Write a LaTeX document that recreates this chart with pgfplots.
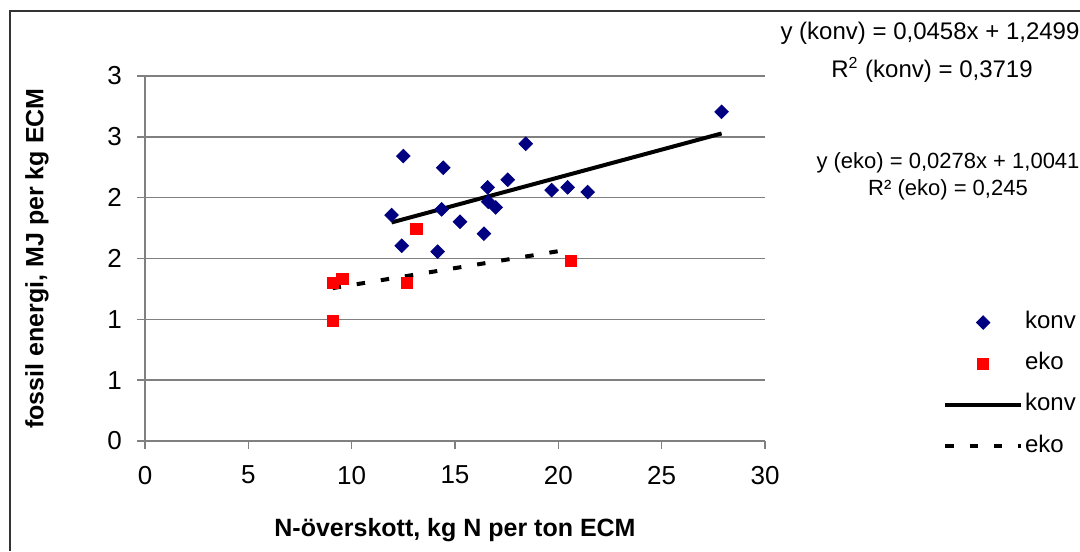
\documentclass[border=0pt]{standalone}
\usepackage{fontspec}
\setmainfont{Liberation Sans}
\usepackage{pgfplots}
\pgfplotsset{compat=1.18}
\definecolor{konvblue}{HTML}{000080}
\definecolor{ekored}{HTML}{FF0000}
\definecolor{gridgray}{HTML}{808080}
\definecolor{framegray}{HTML}{333333}

\begin{document}
\begin{tikzpicture}
\useasboundingbox (0,0) rectangle (540pt,275.5pt);
\draw[line width=1pt, framegray] (4.75pt,0pt) -- (4.75pt,269.75pt) -- (540pt,269.75pt);
\begin{axis}[
  at={(72.5pt,55pt)}, anchor=south west,
  scale only axis, width=310pt, height=182.5pt,
  xmin=0, xmax=30, ymin=0, ymax=3,
  xtick={0,5,...,30}, ytick={0,0.5,...,3},
  yticklabels={0,1,1,2,2,3,3},
  axis lines*=left,
  axis line style={gridgray, line width=0.75pt},
  ymajorgrids, major grid style={gridgray, line width=0.75pt},
  tick align=outside, major tick length=4pt,
  tick style={gridgray, line width=0.75pt},
  ticklabel style={font=\fontsize{13}{15}\selectfont},
  xticklabel style={yshift=-5pt},
  yticklabel style={xshift=-4pt},
  /pgf/number format/assume math mode=true,
  xlabel={N-överskott, kg N per ton ECM},
  ylabel={fossil energi, MJ per kg ECM},
  every axis x label/.style={at={(axis description cs:0.5,0)}, yshift=-44.5pt, anchor=center, font=\bfseries\fontsize{12.5}{14}\selectfont},
  every axis y label/.style={at={(axis description cs:0,0.5)}, xshift=-54pt, rotate=90, anchor=center, font=\bfseries\fontsize{12.5}{14}\selectfont},
  every axis plot post/.append style={legend image code/.code={\draw[mark repeat=2,mark phase=2,#1] plot coordinates {(0pt,0pt) (19pt,0pt) (38pt,0pt)};}},
  legend cell align=left,
  legend style={at={(axis description cs:1.277,0.375)}, anchor=north west, draw=none, fill=none,
    font=\fontsize{12}{14}\selectfont, row sep=6.6pt, column sep=0pt,
    nodes={inner sep=1pt, text height=9pt, text depth=3pt}},
  clip=false,
]
\addplot[only marks, mark=square*, mark size=2.4pt, mark options={rotate=45, fill=konvblue, draw=konvblue}] coordinates {
(11.93,1.857) (12.50,2.342) (12.42,1.605) (14.43,2.246) (14.35,1.904)
(14.16,1.556) (15.24,1.802) (16.40,1.704) (16.58,2.085) (16.61,1.966)
(16.97,1.920) (17.55,2.147) (18.42,2.443) (19.68,2.062) (20.45,2.085)
(21.42,2.046) (27.90,2.706)
};
\addplot[only marks, mark=square*, mark size=2.85pt, mark options={fill=ekored, draw=ekored}] coordinates {
(9.08,1.301) (9.56,1.334) (9.08,0.989) (12.66,1.301) (13.14,1.742) (20.60,1.482)
};
\addplot[black, line width=2pt, no marks] coordinates {(11.93,1.7963) (27.90,2.5277)};
\addplot[black, line width=2pt, no marks, dash pattern=on 4.2pt off 8pt] coordinates {(9.08,1.2565) (20.60,1.5768)};
\legend{konv, eko, konv, eko}
\end{axis}
\node[font=\fontsize{12}{14}\selectfont] at (465pt,259pt) {y (konv) = 0,0458x + 1,2499};
\node[font=\fontsize{12}{14}\selectfont] at (466pt,240.5pt) {R$^{\mathrm{2}}$ (konv) = 0,3719};
\node[font=\fontsize{11}{13}\selectfont] at (474pt,194pt) {y (eko) = 0,0278x + 1,0041};
\node[font=\fontsize{11}{13}\selectfont] at (474pt,180.5pt) {R² (eko) = 0,245};
\end{tikzpicture}
\end{document}
